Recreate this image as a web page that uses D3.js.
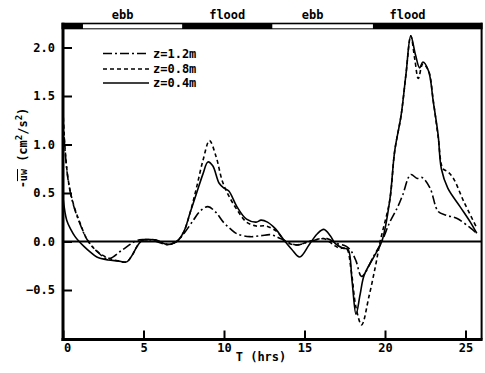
<!DOCTYPE html>
<html><head><meta charset="utf-8">
<script src="https://cdn.jsdelivr.net/npm/d3@7"></script>
<style>
html,body{margin:0;padding:0;background:#fff;}
svg{display:block;}
text{font-family:"DejaVu Sans Mono","Liberation Mono",monospace;font-weight:bold;fill:#000;}
</style></head>
<body>
<svg id="chart" width="485" height="373"></svg>
<script>
// ---- data ----
const xTicks = [0, 5, 10, 15, 20, 25];
const yTicks = [-0.5, 0.0, 0.5, 1.0, 1.5, 2.0];
const seriesNames = ["z=1.2m", "z=0.8m", "z=0.4m"];

const t12 = [0, 0.12, 0.33, 0.64, 1.06, 1.5, 2.1, 2.8, 3.7, 4.58, 5.0, 5.5, 6.45, 7.06, 7.5, 8.1, 8.5, 9.0, 9.5, 9.96, 10.4, 10.8, 11.6, 12.3, 12.9, 13.5, 14.5, 15.3, 16.4, 17.0, 17.6, 17.9, 18.2, 18.55, 19.3, 19.8, 20.3, 20.8, 21.1, 21.6, 22.0, 22.3, 22.8, 23.3, 23.8, 24.45, 25.3, 25.7];
const v12 = [1.25, 0.95, 0.62, 0.38, 0.18, 0.02, -0.1, -0.18, -0.085, 0.01, 0.02, 0.015, -0.03, 0.0, 0.08, 0.22, 0.31, 0.36, 0.3, 0.2, 0.13, 0.08, 0.05, 0.06, 0.07, 0.03, -0.035, 0.0, 0.03, -0.02, -0.05, -0.1, -0.2, -0.36, -0.15, 0.0, 0.2, 0.36, 0.48, 0.69, 0.65, 0.66, 0.55, 0.31, 0.27, 0.24, 0.14, 0.085];

const t08 = [0, 0.12, 0.33, 0.64, 1.06, 1.5, 2.1, 2.8, 3.4, 3.95, 4.3, 4.6, 4.9, 5.3, 5.8, 6.45, 7.06, 7.5, 7.9, 8.3, 8.7, 9.1, 9.5, 9.9, 10.3, 10.8, 11.4, 12.0, 12.6, 13.3, 13.8, 14.5, 15.3, 16.2, 16.8, 17.2, 17.6, 17.9, 18.2, 18.55, 19.0, 19.4, 19.7, 20.3, 20.6, 21.0, 21.3, 21.6, 21.85, 22.07, 22.35, 22.7, 23.0, 23.3, 23.6, 23.9, 24.25, 24.9, 25.7];
const v08 = [1.35, 0.98, 0.63, 0.39, 0.19, 0.02, -0.1, -0.17, -0.2, -0.21, -0.14, -0.05, 0.01, 0.02, 0.015, -0.03, 0.0, 0.1, 0.3, 0.56, 0.84, 1.04, 0.88, 0.62, 0.47, 0.33, 0.2, 0.16, 0.16, 0.1, 0.0, -0.035, 0.0, 0.03, -0.035, -0.07, -0.07, -0.3, -0.68, -0.86, -0.57, -0.26, 0.0, 0.43, 0.93, 1.3, 1.72, 2.12, 1.88, 1.68, 1.83, 1.76, 1.45, 1.08, 0.75, 0.72, 0.65, 0.41, 0.14];

const t04 = [0, 0.23, 0.5, 0.75, 1.0, 1.3, 1.7, 2.1, 2.8, 3.4, 3.95, 4.3, 4.6, 4.9, 5.3, 5.8, 6.45, 7.06, 7.5, 7.9, 8.3, 8.7, 9.0, 9.3, 9.7, 10.0, 10.3, 10.8, 11.4, 12.0, 12.3, 12.7, 13.2, 13.7, 14.2, 14.7, 15.3, 15.8, 16.2, 16.6, 16.9, 17.4, 17.7, 17.95, 18.2, 18.45, 18.7, 19.3, 19.8, 20.3, 20.6, 21.0, 21.3, 21.6, 21.9, 22.15, 22.35, 22.7, 23.0, 23.3, 23.5, 23.9, 24.66, 25.3, 25.7];
const v04 = [0.45, 0.22, 0.12, 0.05, 0.0, -0.05, -0.11, -0.16, -0.19, -0.2, -0.21, -0.14, -0.05, 0.01, 0.02, 0.015, -0.03, 0.0, 0.1, 0.3, 0.5, 0.7, 0.82, 0.78, 0.6, 0.55, 0.52, 0.36, 0.23, 0.2, 0.22, 0.2, 0.13, 0.02, -0.08, -0.16, -0.03, 0.08, 0.125, 0.06, -0.02, -0.07, -0.08, -0.4, -0.75, -0.55, -0.35, -0.16, 0.0, 0.43, 0.93, 1.3, 1.72, 2.12, 1.92, 1.79, 1.85, 1.76, 1.44, 1.1, 0.75, 0.55, 0.36, 0.2, 0.085];

// tidal phases (hours)
const phaseLabels = ["ebb", "flood", "ebb", "flood"];
const phaseLabelT = [3.7, 10.2, 15.5, 21.4];
const ebbStart = [1.24, 13.0];
const ebbEnd = [7.4, 19.25];

// ---- drawing ----
const svg = d3.select("#chart");
const x = d3.scaleLinear().domain([0, 26]).range([63, 481.6]);
const y = d3.scaleLinear().domain([-1.0, 2.2]).range([338.5, 28.1]);

const dashes = ["9,3,2,3", "4,3", null];
const data = [
  t12.map((t, i) => [t, v12[i]]),
  t08.map((t, i) => [t, v08[i]]),
  t04.map((t, i) => [t, v04[i]])
];

// zero line
svg.append("line").attr("x1", x(0)).attr("x2", x(26)).attr("y1", y(0)).attr("y2", y(0))
  .attr("stroke", "#000").attr("stroke-width", 2);

// curves
const line = d3.line().x(d => x(d[0])).y(d => y(d[1])).curve(d3.curveCatmullRom.alpha(0.5));
data.forEach((d, i) => {
  svg.append("path").datum(d).attr("d", line).attr("fill", "none")
    .attr("stroke", "#000").attr("stroke-width", 1.6)
    .attr("stroke-dasharray", dashes[i]);
});

// axes
const yAxis = d3.axisLeft(y).tickValues(yTicks).tickFormat(d3.format(".1f"))
  .tickSizeInner(-9).tickSizeOuter(0).tickPadding(8);
const gy = svg.append("g").attr("transform", `translate(${x(0)},0)`).call(yAxis);
gy.select(".domain").remove();
gy.selectAll("line").attr("stroke-width", 2);
gy.selectAll("text").style("font-size", "12px").attr("fill", "#000")
  .style("font-family", "DejaVu Sans Mono").style("font-weight", "bold");

const xAxis = d3.axisBottom(x).tickValues(xTicks).tickFormat(d3.format("d"))
  .tickSizeInner(-9).tickSizeOuter(0).tickPadding(4);
const gx = svg.append("g").attr("transform", `translate(0,${y(-1.0)+1})`).call(xAxis);
gx.select(".domain").remove();
gx.selectAll("line").attr("stroke-width", 2);
gx.selectAll("text").style("font-size", "12px").attr("fill", "#000")
  .style("font-family", "DejaVu Sans Mono").style("font-weight", "bold");
gx.selectAll(".tick").filter(d => d === 0).select("text").attr("dx", 4);

// frame
const L = x(0), R = x(26), B = y(-1.0) + 1, TOP = 22.7;
svg.append("line").attr("x1", L).attr("x2", L).attr("y1", TOP).attr("y2", B + 1.5).attr("stroke", "#000").attr("stroke-width", 3);
svg.append("line").attr("x1", L - 1.5).attr("x2", R + 1).attr("y1", B).attr("y2", B).attr("stroke", "#000").attr("stroke-width", 3);
svg.append("line").attr("x1", R).attr("x2", R).attr("y1", TOP).attr("y2", B).attr("stroke", "#000").attr("stroke-width", 2);

// tide bar
svg.append("rect").attr("x", L - 1.5).attr("y", TOP).attr("width", R - L + 2.5).attr("height", 6.6).attr("fill", "#000");
ebbStart.forEach((s, i) => {
  svg.append("rect").attr("x", x(s)).attr("y", 24.3).attr("width", x(ebbEnd[i]) - x(s)).attr("height", 4)
    .attr("fill", "#fff");
});
phaseLabels.forEach((lbl, i) => {
  svg.append("text").attr("x", x(phaseLabelT[i])).attr("y", 19).attr("text-anchor", "middle")
    .style("font-size", "12px").text(lbl);
});

// legend
const legY = [53.5, 69, 83];
seriesNames.forEach((nm, i) => {
  svg.append("line").attr("x1", 103).attr("x2", 149).attr("y1", legY[i]).attr("y2", legY[i])
    .attr("stroke", "#000").attr("stroke-width", 1.6).attr("stroke-dasharray", dashes[i]);
  svg.append("text").attr("x", 153).attr("y", legY[i]).attr("dy", "0.36em")
    .style("font-size", "12px").text(nm);
});

// axis titles
svg.append("text").attr("x", 261).attr("y", 361).attr("text-anchor", "middle")
  .style("font-size", "12px").text("T (hrs)");

const yt = svg.append("text").attr("transform", "translate(27,148) rotate(-90)")
  .attr("text-anchor", "middle").style("font-size", "12px");
yt.append("tspan").text("-");
yt.append("tspan").style("text-decoration", "overline").style("font-size", "10px").text("uw");
yt.append("tspan").text(" (cm");
yt.append("tspan").attr("dy", -5).style("font-size", "9px").text("2");
yt.append("tspan").attr("dy", 5).text("/s");
yt.append("tspan").attr("dy", -5).style("font-size", "9px").text("2");
yt.append("tspan").attr("dy", 5).text(")");
</script>
</body></html>
